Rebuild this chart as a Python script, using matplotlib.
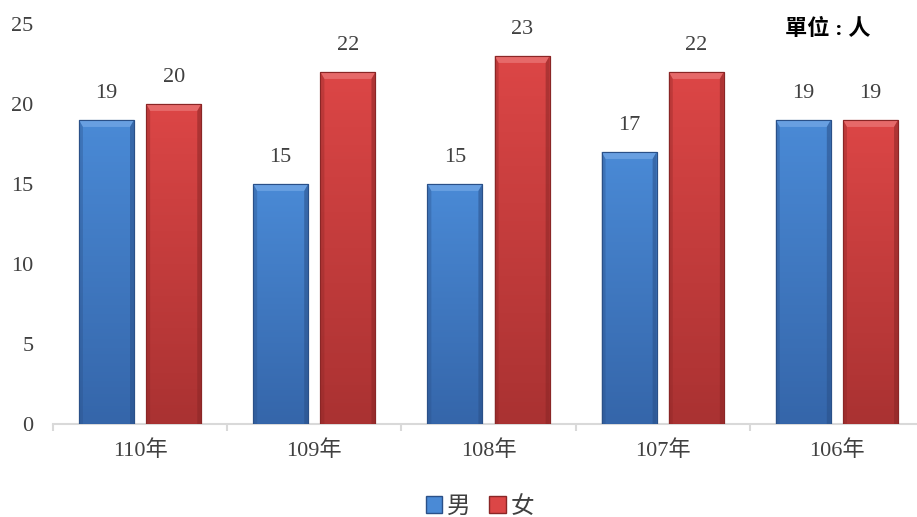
import numpy as np
import matplotlib
matplotlib.use('Agg')
import matplotlib.pyplot as plt
from matplotlib.patches import Polygon, Patch
from matplotlib.colors import LinearSegmentedColormap

plt.rcParams['font.family'] = ['Liberation Serif', 'Noto Sans CJK TC', 'DejaVu Sans']

# 資料
years = ['110年', '109年', '108年', '107年', '106年']
male = [19, 15, 15, 17, 19]
female = [20, 22, 23, 22, 19]
series_names = ['男', '女']

# 顏色 (上亮 -> 下暗)
blue_top, blue_bot, blue_edge, blue_bevel = '#4a8ad6', '#3566aa', '#2a5088', '#6ea4e4'
red_top, red_bot, red_edge, red_bevel = '#dc4646', '#aa3232', '#8a2626', '#e87070'
text_color = '#404040'

fig = plt.figure(figsize=(9.17, 5.17), dpi=100)
ax = fig.add_axes([53 / 917, 0.180, (924 - 53) / 917, 0.7737])

x = np.arange(len(years))
bw = 0.316
off = 0.193

# 每單位的像素 (做斜角用)
px_x = 174.25
px_y = 16.0
side = 4 / px_x
top = 7 / px_y


def draw_bars(xs, vals, ctop, cbot, cedge, cbevel):
    bars = ax.bar(xs, vals, bw, color=cbot, edgecolor=cedge, linewidth=0.8, zorder=2)
    cmap = LinearSegmentedColormap.from_list('g', [cbot, ctop])
    grad = np.linspace(0, 1, 100).reshape(-1, 1)
    for b in bars:
        x0 = b.get_x()
        x1 = x0 + b.get_width()
        h = b.get_height()
        im = ax.imshow(grad, extent=(x0, x1, 0, h), origin='lower', cmap=cmap,
                       aspect='auto', zorder=2.1)
        im.set_clip_path(b)
        # 頂部斜角
        ax.add_patch(Polygon([(x0, h), (x1, h), (x1 - side, h - top), (x0 + side, h - top)],
                             closed=True, facecolor=cbevel, edgecolor='none', alpha=0.85, zorder=2.2))
        # 側邊
        ax.add_patch(Polygon([(x0, 0), (x0, h), (x0 + side, h - top), (x0 + side, 0)],
                             closed=True, facecolor=cedge, edgecolor='none', alpha=0.35, zorder=2.2))
        ax.add_patch(Polygon([(x1, 0), (x1, h), (x1 - side, h - top), (x1 - side, 0)],
                             closed=True, facecolor=cedge, edgecolor='none', alpha=0.55, zorder=2.2))
        ax.add_patch(Polygon([(x0, 0), (x1, 0), (x1, h), (x0, h)], closed=True,
                             facecolor='none', edgecolor=cedge, linewidth=0.8, zorder=2.3))
    return bars


b1 = draw_bars(x - off, male, blue_top, blue_bot, blue_edge, blue_bevel)
b2 = draw_bars(x + off, female, red_top, red_bot, red_edge, red_bevel)

for bars, vals in [(b1, male), (b2, female)]:
    for b, v in zip(bars, vals):
        ax.annotate(str(v), (b.get_x() + b.get_width() / 2, v), xytext=(0, 12),
                    textcoords='offset points', ha='center', va='bottom',
                    fontsize=16, color=text_color)

ax.set_xlim(-0.5, len(years) - 0.5)
ax.set_ylim(0, 25)
ax.set_yticks([0, 5, 10, 15, 20, 25])
ax.set_xticks(x)
ax.set_xticklabels(years)
ax.set_xticks(np.arange(len(years) + 1) - 0.5, minor=True)
ax.tick_params(axis='y', length=0, pad=14, labelsize=16, labelcolor=text_color)
ax.tick_params(axis='x', which='major', length=0, pad=12, labelsize=16, labelcolor=text_color)
ax.tick_params(axis='x', which='minor', length=5, width=1.5, color='#d9d9d9')

for s in ['top', 'right', 'left']:
    ax.spines[s].set_visible(False)
ax.spines['bottom'].set_color('#d9d9d9')
ax.spines['bottom'].set_linewidth(1.5)
ax.spines['bottom'].set_zorder(1)

fig.text(785 / 917, 1 - 29 / 517, '單位 : 人', fontsize=16, fontweight='bold',
         ha='left', va='center', color='black')

handles = [Patch(facecolor=blue_top, edgecolor=blue_edge),
           Patch(facecolor=red_top, edgecolor=red_edge)]
fig.legend(handles, series_names, loc='center', bbox_to_anchor=(480 / 917, 1 - 507 / 517),
           ncol=2, frameon=False, fontsize=17, handlelength=0.7, handleheight=0.7,
           handletextpad=0.2, columnspacing=0.8, labelcolor=text_color)

fig.savefig('out.png', dpi=100)
